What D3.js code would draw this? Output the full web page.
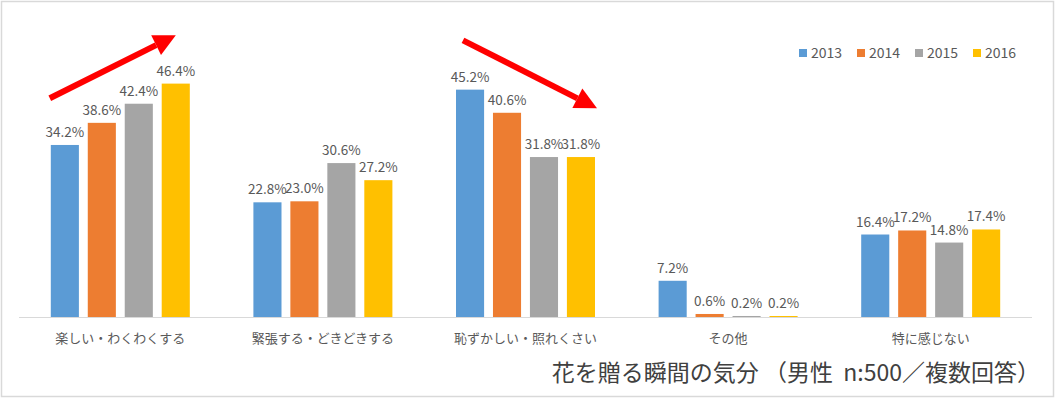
<!DOCTYPE html>
<html>
<head>
<meta charset="utf-8">
<script src="https://cdn.jsdelivr.net/npm/d3@7"></script>
<style>
  body { margin: 0; background: #fff; }
  svg { display: block; }
  text { font-family: "Noto Sans CJK JP", "Noto Sans", sans-serif; }
</style>
</head>
<body>
<div id="chart"></div>
<script>
// data
let categories = ["楽しい・わくわくする", "緊張する・どきどきする", "恥ずかしい・照れくさい", "その他", "特に感じない"];
let years = ["2013", "2014", "2015", "2016"];
let v2013 = [34.2, 22.8, 45.2, 7.2, 16.4];
let v2014 = [38.6, 23.0, 40.6, 0.6, 17.2];
let v2015 = [42.4, 30.6, 31.8, 0.2, 14.8];
let v2016 = [46.4, 27.2, 31.8, 0.2, 17.4];
let colors = ["#5B9BD5", "#ED7D31", "#A5A5A5", "#FFC000"];
let title = "花を贈る瞬間の気分 （男性  n:500／複数回答）";

let W = 1055, H = 398;
let series = [v2013, v2014, v2015, v2016];

let svg = d3.select("#chart").append("svg")
    .attr("width", W)
    .attr("height", H);

// outer frame
svg.append("rect")
    .attr("x", 1.5).attr("y", 1.5)
    .attr("width", W - 3).attr("height", H - 3)
    .attr("fill", "#fff")
    .attr("stroke", "#d9d9d9")
    .attr("stroke-width", 1.5);

// scales
let x0 = d3.scaleBand().domain(categories).range([19, 1032]);
let groupW = 139;
let x1 = d3.scaleBand().domain(years).range([0, groupW]).paddingInner(0.24);
let y = d3.scaleLinear().domain([0, 50]).range([317, 65.5]);
let color = d3.scaleOrdinal().domain(years).range(colors);

let groupX = c => x0(c) + (x0.bandwidth() - groupW) / 2;

// axis line
svg.append("line")
    .attr("x1", 19).attr("x2", 1032)
    .attr("y1", y(0) + 0.5).attr("y2", y(0) + 0.5)
    .attr("stroke", "#d9d9d9")
    .attr("stroke-width", 1);

// bars
let rows = [];
categories.forEach((c, i) => {
    years.forEach((yr, j) => {
        rows.push({cat: c, year: yr, value: series[j][i]});
    });
});

svg.append("g").selectAll("rect")
    .data(rows)
    .enter()
    .append("rect")
    .attr("x", d => groupX(d.cat) + x1(d.year))
    .attr("y", d => y(d.value))
    .attr("width", x1.bandwidth())
    .attr("height", d => y(0) - y(d.value))
    .attr("fill", d => color(d.year));

// data labels
svg.append("g").selectAll("text")
    .data(rows)
    .enter()
    .append("text")
    .attr("x", d => groupX(d.cat) + x1(d.year) + x1.bandwidth() / 2)
    .attr("y", d => y(d.value) - 8)
    .attr("text-anchor", "middle")
    .attr("font-size", "13.5px")
    .attr("fill", "#595959")
    .text(d => d.value.toFixed(1) + "%");

// category labels
svg.append("g").selectAll("text")
    .data(categories)
    .enter()
    .append("text")
    .attr("x", d => x0(d) + x0.bandwidth() / 2)
    .attr("y", 343)
    .attr("text-anchor", "middle")
    .attr("font-size", "13px")
    .attr("fill", "#595959")
    .text(d => d);

// legend
let legend = svg.append("g").selectAll("g")
    .data(years)
    .enter()
    .append("g")
    .attr("transform", (d, i) => `translate(${799 + i * 58},49)`);
legend.append("rect")
    .attr("width", 8).attr("height", 8)
    .attr("fill", d => color(d));
legend.append("text")
    .attr("x", 12).attr("y", 9)
    .attr("font-size", "14px")
    .attr("fill", "#595959")
    .text(d => d);

// title
svg.append("text")
    .attr("x", 1040)
    .attr("y", 381)
    .attr("text-anchor", "end")
    .attr("font-size", "23px")
    .attr("fill", "#404040")
    .style("white-space", "pre")
    .text(title);

// red trend arrows
function arrow(x1a, y1a, x2a, y2a) {
    let ang = Math.atan2(y2a - y1a, x2a - x1a);
    let headL = 22, headW = 11;
    let bx = x2a - headL * Math.cos(ang), by = y2a - headL * Math.sin(ang);
    svg.append("line")
        .attr("x1", x1a).attr("y1", y1a)
        .attr("x2", bx).attr("y2", by)
        .attr("stroke", "#FF0000")
        .attr("stroke-width", 6);
    let px = -Math.sin(ang) * headW, py = Math.cos(ang) * headW;
    svg.append("polygon")
        .attr("points", [[x2a, y2a], [bx + px, by + py], [bx - px, by - py]].map(p => p.join(",")).join(" "))
        .attr("fill", "#FF0000");
}

let g0 = groupX(categories[0]), g2 = groupX(categories[2]);
arrow(g0 - 1, y(43.5), g0 + groupW - 14, y(56));
arrow(g2 + 7, y(55), g2 + groupW + 2, y(41.5));
</script>
</body>
</html>
